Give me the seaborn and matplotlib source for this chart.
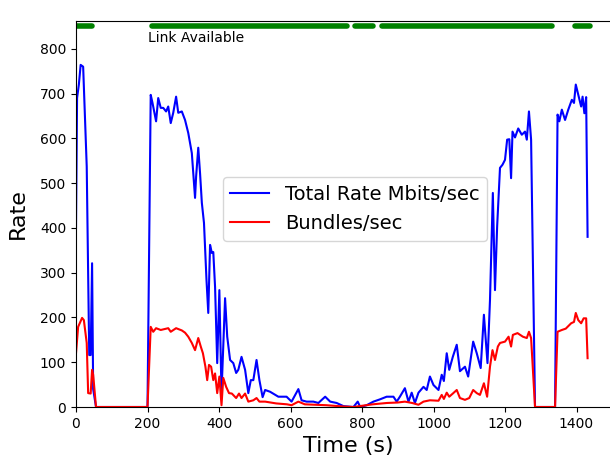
import matplotlib
matplotlib.use("Agg")
import matplotlib.pyplot as plt
import seaborn as sns
import pandas as pd

# ---- data ----
rate_t = [0, 3, 8, 13, 20, 30, 37, 41, 45, 48, 56, 200, 209, 214, 224, 230, 237, 244, 252, 258,
          265, 272, 280, 286, 296, 305, 314, 324, 333, 336, 342, 347, 352, 358, 365, 370, 375, 380,
          384, 389, 395, 401, 407, 417, 423, 431, 440, 448, 454, 463, 473, 482, 489, 496, 505, 513,
          522, 529, 543, 566, 589, 603, 622, 631, 645, 664, 678, 697, 711, 729, 748, 776, 788, 795,
          813, 832, 850, 869, 888, 897, 906, 920, 930, 939, 948, 958, 972, 981, 990, 1000, 1014,
          1023, 1029, 1037, 1044, 1054, 1065, 1074, 1088, 1097, 1111, 1121, 1132, 1141, 1151, 1158,
          1166, 1172, 1178, 1186, 1193, 1200, 1206, 1212, 1217, 1221, 1228, 1237, 1247, 1256, 1261,
          1267, 1273, 1284, 1340, 1347, 1352, 1359, 1368, 1377, 1387, 1393, 1398, 1405, 1413, 1417,
          1422, 1427, 1431]
rate_v = [400, 690, 720, 764, 760, 537, 116, 116, 321, 40, 0, 0, 697, 679, 638, 690, 668, 668, 660, 671,
          634, 657, 693, 657, 660, 641, 612, 567, 467, 515, 579, 522, 456, 411, 284, 210, 362, 344,
          346, 268, 98, 261, 31, 243, 157, 105, 98, 76, 83, 112, 83, 31, 60, 60, 105, 60,
          22, 38, 34, 23, 23, 12, 40, 15, 12, 12, 9, 23, 12, 9, 2, 0, 12, 0,
          4, 12, 17, 23, 23, 12, 23, 42, 12, 32, 9, 32, 45, 38, 68, 49, 38,
          72, 58, 120, 83, 112, 139, 80, 90, 68, 146, 120, 87, 206, 98, 239,
          478, 261, 403, 534, 541, 552, 597, 598, 511, 615, 602, 622, 608, 615, 597,
          660, 597, 0, 0, 653, 638, 664, 641, 664, 686, 679, 720, 697, 671, 693,
          656, 692, 380]

bundle_t = [0, 6, 17, 22, 30, 34, 41, 45, 48, 56, 200, 209, 216, 224, 237, 258, 265, 280, 296, 305,
            314, 324, 333, 342, 349, 355, 362, 367, 372, 378, 384, 389, 395, 401, 407, 412, 420, 428,
            436, 448, 456, 463, 473, 482, 496, 505, 513, 529, 560, 590, 603, 622, 640, 700, 750, 776,
            830, 870, 900, 920, 940, 958, 972, 990, 1014, 1023, 1029, 1037, 1044, 1054, 1065, 1074,
            1088, 1100, 1111, 1121, 1130, 1141, 1150, 1158, 1165, 1172, 1180, 1186, 1200, 1210, 1217,
            1222, 1235, 1250, 1261, 1267, 1273, 1284, 1340, 1347, 1359, 1370, 1385, 1393, 1398, 1405,
            1413, 1420, 1427, 1431]
bundle_v = [120, 179, 199, 194, 143, 31, 30, 83, 72, 0, 0, 179, 168, 176, 172, 176, 168, 176, 171, 166,
            157, 143, 127, 154, 135, 120, 90, 60, 94, 90, 60, 75, 31, 68, 4, 65, 45, 31,
            30, 20, 30, 20, 30, 12, 15, 20, 12, 12, 8, 6, 4, 12, 6, 4, 1, 0,
            6, 9, 10, 12, 9, 5, 12, 15, 14, 27, 18, 32, 23, 30, 38, 20,
            16, 20, 38, 31, 27, 53, 23, 90, 127, 105, 135, 143, 146, 157, 135,
            161, 165, 157, 154, 168, 154, 0, 0, 168, 172, 175, 187, 190, 210, 194,
            187, 198, 198, 109]

link_start = [0, 212, 780, 856, 1396]
link_end = [45, 758, 831, 1332, 1438]
link_level = 850

series_names = ["Total Rate Mbits/sec", "Bundles/sec"]

df_rate = pd.DataFrame({"t": rate_t, "v": rate_v})
df_bund = pd.DataFrame({"t": bundle_t, "v": bundle_v})

fig = plt.figure(figsize=(6.1, 4.61), dpi=100)
ax_w = 545
ax = fig.add_axes([76 / 610, 54 / 461, ax_w / 610, 386 / 461])

sns.lineplot(data=df_rate, x="t", y="v", color="blue", linewidth=1.5,
             label=series_names[0], estimator=None, sort=False, ax=ax)
sns.lineplot(data=df_bund, x="t", y="v", color="red", linewidth=1.5,
             label=series_names[1], estimator=None, sort=False, ax=ax)

lc = ax.hlines([link_level] * len(link_start), link_start, link_end,
               colors="green", linewidth=4)
lc.set_capstyle("round")

ax.text(200, 823, "Link Available", fontsize=10, va="center", ha="left")

ax.set_xlim(0, ax_w / 0.3575)
ax.set_ylim(0, 862)
ax.set_xticks([0, 200, 400, 600, 800, 1000, 1200, 1400])
ax.set_yticks([0, 100, 200, 300, 400, 500, 600, 700, 800])
ax.set_xlabel("Time (s)", fontsize=16)
ax.set_ylabel("Rate", fontsize=16, labelpad=9)
ax.tick_params(labelsize=10)
ax.legend(loc="center", fontsize=14,
          bbox_to_anchor=((355 - 76) / ax_w, (407 - 209) / 386))

fig.savefig("out.png", dpi=100)
